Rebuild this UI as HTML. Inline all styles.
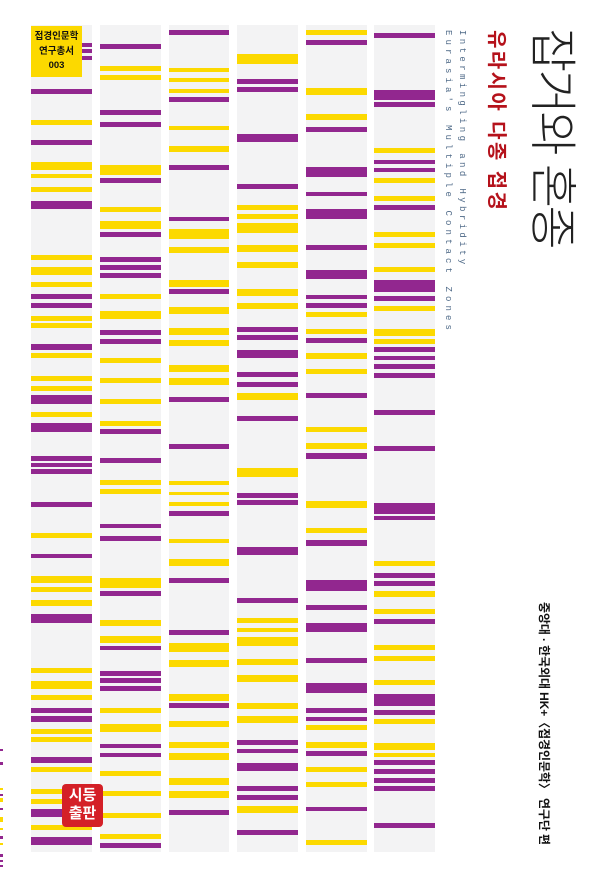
<!DOCTYPE html>
<html><head><meta charset="utf-8">
<style>
html,body{margin:0;padding:0;background:#fff;}
body{width:600px;height:878px;position:relative;overflow:hidden;font-family:"Liberation Sans","Noto Sans CJK KR",sans-serif;}
.col{position:absolute;top:0;width:61px;height:878px;}
.bg{position:absolute;left:0;right:0;top:25px;height:827px;background:#f3f3f4;}
.col b{position:absolute;left:0;right:0;display:block;}
.p{background:#92278f;}
.y{background:#fcd900;}
.rot{position:absolute;transform-origin:0 0;transform:rotate(90deg);white-space:nowrap;}
.edge b{position:absolute;left:0;width:3px;display:block;}
</style></head><body>

<!-- column 1 -->
<div class="col" style="left:31px">
<div class="bg"></div>
<b class="p" style="top:43px;height:4px"></b>
<b class="p" style="top:49px;height:4px"></b>
<b class="p" style="top:56px;height:4px"></b>
<b class="p" style="top:89px;height:5px"></b>
<b class="y" style="top:120px;height:5px"></b>
<b class="p" style="top:140px;height:5px"></b>
<b class="y" style="top:162px;height:8px"></b>
<b class="y" style="top:174px;height:4px"></b>
<b class="y" style="top:187px;height:5px"></b>
<b class="p" style="top:201px;height:8px"></b>
<b class="y" style="top:255px;height:5px"></b>
<b class="y" style="top:267px;height:8px"></b>
<b class="y" style="top:282px;height:5px"></b>
<b class="p" style="top:294px;height:5px"></b>
<b class="p" style="top:303px;height:5px"></b>
<b class="y" style="top:316px;height:5px"></b>
<b class="y" style="top:323px;height:5px"></b>
<b class="p" style="top:344px;height:6px"></b>
<b class="y" style="top:353px;height:5px"></b>
<b class="y" style="top:376px;height:5px"></b>
<b class="y" style="top:386px;height:5px"></b>
<b class="p" style="top:395px;height:9px"></b>
<b class="y" style="top:412px;height:5px"></b>
<b class="p" style="top:423px;height:9px"></b>
<b class="p" style="top:456px;height:5px"></b>
<b class="p" style="top:463px;height:4px"></b>
<b class="p" style="top:469px;height:5px"></b>
<b class="p" style="top:502px;height:5px"></b>
<b class="y" style="top:533px;height:5px"></b>
<b class="p" style="top:554px;height:4px"></b>
<b class="y" style="top:576px;height:7px"></b>
<b class="y" style="top:587px;height:5px"></b>
<b class="y" style="top:600px;height:6px"></b>
<b class="p" style="top:614px;height:9px"></b>
<b class="y" style="top:668px;height:5px"></b>
<b class="y" style="top:681px;height:8px"></b>
<b class="y" style="top:695px;height:5px"></b>
<b class="p" style="top:708px;height:5px"></b>
<b class="p" style="top:716px;height:6px"></b>
<b class="y" style="top:729px;height:5px"></b>
<b class="y" style="top:737px;height:5px"></b>
<b class="p" style="top:757px;height:6px"></b>
<b class="y" style="top:767px;height:5px"></b>
<b class="y" style="top:789px;height:5px"></b>
<b class="y" style="top:799px;height:5px"></b>
<b class="p" style="top:809px;height:8px"></b>
<b class="y" style="top:825px;height:5px"></b>
<b class="p" style="top:837px;height:8px"></b>
</div>

<!-- column 2 -->
<div class="col" style="left:100px">
<div class="bg"></div>
<b class="p" style="top:44px;height:5px"></b>
<b class="y" style="top:66px;height:5px"></b>
<b class="y" style="top:75px;height:5px"></b>
<b class="p" style="top:110px;height:5px"></b>
<b class="p" style="top:122px;height:5px"></b>
<b class="y" style="top:165px;height:10px"></b>
<b class="p" style="top:178px;height:5px"></b>
<b class="y" style="top:207px;height:5px"></b>
<b class="y" style="top:221px;height:8px"></b>
<b class="p" style="top:232px;height:5px"></b>
<b class="p" style="top:257px;height:5px"></b>
<b class="p" style="top:265px;height:5px"></b>
<b class="p" style="top:273px;height:5px"></b>
<b class="y" style="top:294px;height:5px"></b>
<b class="y" style="top:311px;height:8px"></b>
<b class="p" style="top:330px;height:5px"></b>
<b class="p" style="top:339px;height:5px"></b>
<b class="y" style="top:358px;height:5px"></b>
<b class="y" style="top:378px;height:5px"></b>
<b class="y" style="top:399px;height:5px"></b>
<b class="y" style="top:421px;height:5px"></b>
<b class="p" style="top:429px;height:5px"></b>
<b class="p" style="top:458px;height:5px"></b>
<b class="y" style="top:480px;height:5px"></b>
<b class="y" style="top:489px;height:5px"></b>
<b class="p" style="top:524px;height:4px"></b>
<b class="p" style="top:536px;height:5px"></b>
<b class="y" style="top:578px;height:10px"></b>
<b class="p" style="top:591px;height:5px"></b>
<b class="y" style="top:620px;height:6px"></b>
<b class="y" style="top:636px;height:7px"></b>
<b class="p" style="top:646px;height:4px"></b>
<b class="p" style="top:671px;height:5px"></b>
<b class="p" style="top:678px;height:5px"></b>
<b class="p" style="top:686px;height:5px"></b>
<b class="y" style="top:708px;height:5px"></b>
<b class="y" style="top:724px;height:8px"></b>
<b class="p" style="top:744px;height:4px"></b>
<b class="p" style="top:753px;height:4px"></b>
<b class="y" style="top:771px;height:5px"></b>
<b class="y" style="top:791px;height:5px"></b>
<b class="y" style="top:813px;height:5px"></b>
<b class="y" style="top:834px;height:5px"></b>
<b class="p" style="top:843px;height:5px"></b>
</div>

<!-- column 3 -->
<div class="col" style="left:169px;width:60px">
<div class="bg"></div>
<b class="p" style="top:30px;height:5px"></b>
<b class="y" style="top:68px;height:4px"></b>
<b class="y" style="top:78px;height:4px"></b>
<b class="y" style="top:89px;height:4px"></b>
<b class="p" style="top:97px;height:5px"></b>
<b class="y" style="top:126px;height:4px"></b>
<b class="y" style="top:146px;height:6px"></b>
<b class="p" style="top:165px;height:5px"></b>
<b class="p" style="top:217px;height:4px"></b>
<b class="y" style="top:229px;height:10px"></b>
<b class="y" style="top:247px;height:6px"></b>
<b class="y" style="top:280px;height:7px"></b>
<b class="p" style="top:289px;height:5px"></b>
<b class="y" style="top:307px;height:7px"></b>
<b class="y" style="top:328px;height:7px"></b>
<b class="y" style="top:340px;height:6px"></b>
<b class="y" style="top:365px;height:7px"></b>
<b class="y" style="top:378px;height:7px"></b>
<b class="p" style="top:397px;height:5px"></b>
<b class="p" style="top:444px;height:5px"></b>
<b class="y" style="top:481px;height:4px"></b>
<b class="y" style="top:492px;height:3px"></b>
<b class="y" style="top:502px;height:4px"></b>
<b class="p" style="top:511px;height:5px"></b>
<b class="y" style="top:539px;height:4px"></b>
<b class="y" style="top:559px;height:7px"></b>
<b class="p" style="top:578px;height:5px"></b>
<b class="p" style="top:630px;height:5px"></b>
<b class="y" style="top:643px;height:9px"></b>
<b class="y" style="top:660px;height:7px"></b>
<b class="y" style="top:694px;height:7px"></b>
<b class="p" style="top:703px;height:5px"></b>
<b class="y" style="top:721px;height:6px"></b>
<b class="y" style="top:742px;height:6px"></b>
<b class="y" style="top:753px;height:7px"></b>
<b class="y" style="top:778px;height:7px"></b>
<b class="y" style="top:791px;height:7px"></b>
<b class="p" style="top:810px;height:5px"></b>
</div>

<!-- column 4 -->
<div class="col" style="left:237px">
<div class="bg"></div>
<b class="y" style="top:54px;height:10px"></b>
<b class="p" style="top:79px;height:5px"></b>
<b class="p" style="top:87px;height:5px"></b>
<b class="p" style="top:134px;height:8px"></b>
<b class="p" style="top:184px;height:5px"></b>
<b class="y" style="top:205px;height:5px"></b>
<b class="y" style="top:214px;height:5px"></b>
<b class="y" style="top:223px;height:10px"></b>
<b class="y" style="top:245px;height:7px"></b>
<b class="y" style="top:262px;height:6px"></b>
<b class="y" style="top:289px;height:7px"></b>
<b class="y" style="top:303px;height:6px"></b>
<b class="p" style="top:327px;height:5px"></b>
<b class="p" style="top:335px;height:5px"></b>
<b class="p" style="top:350px;height:8px"></b>
<b class="p" style="top:372px;height:5px"></b>
<b class="p" style="top:382px;height:5px"></b>
<b class="y" style="top:393px;height:7px"></b>
<b class="p" style="top:416px;height:5px"></b>
<b class="y" style="top:468px;height:9px"></b>
<b class="p" style="top:493px;height:5px"></b>
<b class="p" style="top:500px;height:5px"></b>
<b class="p" style="top:547px;height:8px"></b>
<b class="p" style="top:598px;height:5px"></b>
<b class="y" style="top:618px;height:5px"></b>
<b class="y" style="top:628px;height:4px"></b>
<b class="y" style="top:637px;height:9px"></b>
<b class="y" style="top:659px;height:6px"></b>
<b class="y" style="top:675px;height:7px"></b>
<b class="y" style="top:703px;height:6px"></b>
<b class="y" style="top:716px;height:7px"></b>
<b class="p" style="top:740px;height:5px"></b>
<b class="p" style="top:749px;height:4px"></b>
<b class="p" style="top:763px;height:8px"></b>
<b class="p" style="top:786px;height:5px"></b>
<b class="p" style="top:795px;height:5px"></b>
<b class="y" style="top:806px;height:7px"></b>
<b class="p" style="top:830px;height:5px"></b>
</div>

<!-- column 5 -->
<div class="col" style="left:306px">
<div class="bg"></div>
<b class="y" style="top:30px;height:5px"></b>
<b class="p" style="top:40px;height:5px"></b>
<b class="y" style="top:88px;height:7px"></b>
<b class="y" style="top:114px;height:6px"></b>
<b class="p" style="top:127px;height:5px"></b>
<b class="p" style="top:167px;height:10px"></b>
<b class="p" style="top:192px;height:4px"></b>
<b class="p" style="top:209px;height:10px"></b>
<b class="p" style="top:245px;height:5px"></b>
<b class="p" style="top:270px;height:9px"></b>
<b class="p" style="top:295px;height:4px"></b>
<b class="p" style="top:303px;height:5px"></b>
<b class="y" style="top:312px;height:5px"></b>
<b class="y" style="top:329px;height:5px"></b>
<b class="p" style="top:338px;height:5px"></b>
<b class="y" style="top:353px;height:6px"></b>
<b class="y" style="top:369px;height:5px"></b>
<b class="p" style="top:393px;height:5px"></b>
<b class="y" style="top:427px;height:5px"></b>
<b class="y" style="top:443px;height:6px"></b>
<b class="p" style="top:453px;height:6px"></b>
<b class="y" style="top:501px;height:7px"></b>
<b class="y" style="top:528px;height:5px"></b>
<b class="p" style="top:540px;height:6px"></b>
<b class="p" style="top:580px;height:11px"></b>
<b class="p" style="top:605px;height:5px"></b>
<b class="p" style="top:623px;height:9px"></b>
<b class="p" style="top:658px;height:5px"></b>
<b class="p" style="top:683px;height:10px"></b>
<b class="p" style="top:708px;height:5px"></b>
<b class="p" style="top:717px;height:4px"></b>
<b class="y" style="top:725px;height:5px"></b>
<b class="y" style="top:742px;height:6px"></b>
<b class="p" style="top:751px;height:5px"></b>
<b class="y" style="top:767px;height:5px"></b>
<b class="y" style="top:782px;height:5px"></b>
<b class="p" style="top:807px;height:4px"></b>
<b class="y" style="top:840px;height:5px"></b>
</div>

<!-- column 6 -->
<div class="col" style="left:374px">
<div class="bg"></div>
<b class="p" style="top:33px;height:5px"></b>
<b class="p" style="top:90px;height:10px"></b>
<b class="p" style="top:102px;height:5px"></b>
<b class="y" style="top:148px;height:5px"></b>
<b class="p" style="top:160px;height:4px"></b>
<b class="p" style="top:168px;height:4px"></b>
<b class="y" style="top:178px;height:5px"></b>
<b class="y" style="top:196px;height:5px"></b>
<b class="p" style="top:205px;height:5px"></b>
<b class="y" style="top:232px;height:5px"></b>
<b class="y" style="top:243px;height:5px"></b>
<b class="y" style="top:267px;height:5px"></b>
<b class="p" style="top:280px;height:12px"></b>
<b class="p" style="top:296px;height:5px"></b>
<b class="y" style="top:306px;height:5px"></b>
<b class="y" style="top:329px;height:7px"></b>
<b class="y" style="top:339px;height:5px"></b>
<b class="p" style="top:347px;height:5px"></b>
<b class="p" style="top:356px;height:4px"></b>
<b class="p" style="top:364px;height:5px"></b>
<b class="p" style="top:373px;height:5px"></b>
<b class="p" style="top:410px;height:5px"></b>
<b class="p" style="top:446px;height:5px"></b>
<b class="p" style="top:503px;height:11px"></b>
<b class="p" style="top:516px;height:4px"></b>
<b class="y" style="top:561px;height:5px"></b>
<b class="p" style="top:573px;height:5px"></b>
<b class="p" style="top:581px;height:5px"></b>
<b class="y" style="top:591px;height:6px"></b>
<b class="y" style="top:609px;height:5px"></b>
<b class="p" style="top:619px;height:5px"></b>
<b class="y" style="top:645px;height:5px"></b>
<b class="y" style="top:656px;height:5px"></b>
<b class="y" style="top:680px;height:5px"></b>
<b class="p" style="top:694px;height:12px"></b>
<b class="p" style="top:710px;height:5px"></b>
<b class="y" style="top:719px;height:5px"></b>
<b class="y" style="top:743px;height:7px"></b>
<b class="y" style="top:753px;height:4px"></b>
<b class="p" style="top:760px;height:5px"></b>
<b class="p" style="top:769px;height:5px"></b>
<b class="p" style="top:778px;height:5px"></b>
<b class="p" style="top:786px;height:5px"></b>
<b class="p" style="top:823px;height:5px"></b>
</div>

<!-- series label box -->
<div style="position:absolute;left:31px;top:26px;width:51px;height:51px;background:#fcd900;text-align:center;font-family:'Liberation Sans','Noto Sans CJK KR',sans-serif;font-weight:bold;font-size:9.5px;line-height:14.5px;color:#111;box-sizing:border-box;">
<div style="padding-top:4px">접경인문학<br>연구총서<br>003</div>
</div>

<!-- seal -->
<div style="position:absolute;left:62px;top:784px;width:41px;height:43px;background:#d42027;border-radius:4px;color:#fff;font-family:'Liberation Sans','Noto Sans CJK KR',sans-serif;font-weight:bold;font-size:15px;line-height:18px;text-align:center;padding-top:3px;box-sizing:border-box;">시등<br>출판</div>

<!-- left edge strip -->
<div class="edge">
<b class="p" style="top:749px;height:2px"></b>
<b class="p" style="top:762px;height:3px"></b>
<b class="y" style="top:788px;height:2px"></b>
<b class="p" style="top:794px;height:2px"></b>
<b class="y" style="top:798px;height:4px"></b>
<b class="p" style="top:808px;height:2px"></b>
<b class="y" style="top:817px;height:5px"></b>
<b class="y" style="top:828px;height:2px"></b>
<b class="p" style="top:836px;height:3px"></b>
<b class="y" style="top:843px;height:2px"></b>
<b class="p" style="top:854px;height:3px"></b>
<b class="p" style="top:860px;height:2px"></b>
<b class="p" style="top:865px;height:2px"></b>
</div>

<!-- title -->
<div class="rot" style="left:575px;top:28px;font-family:'Liberation Sans','Noto Sans CJK KR',sans-serif;font-size:48px;line-height:48px;letter-spacing:-2.5px;color:#222;font-weight:300;">잡거와 혼종</div>

<!-- subtitle -->
<div class="rot" style="left:507px;top:30px;font-family:'Liberation Sans','Noto Sans CJK KR',sans-serif;font-size:20px;line-height:22px;letter-spacing:2.4px;color:#b5121b;font-weight:bold;">유라시아 다종 접경</div>

<!-- english -->
<div class="rot" style="left:468px;top:30px;font-family:'Liberation Mono',monospace;font-size:9px;line-height:12px;letter-spacing:3.4px;color:#4f6a88;">Intermingling and Hybridity</div>
<div class="rot" style="left:454px;top:30px;font-family:'Liberation Mono',monospace;font-size:9px;line-height:12px;letter-spacing:4.1px;color:#4f6a88;">Eurasia's Multiple Contact Zones</div>

<!-- credit -->
<div class="rot" style="left:550px;top:602px;font-family:'Liberation Sans','Noto Sans CJK KR',sans-serif;font-size:12px;line-height:13px;letter-spacing:-0.1px;color:#111;font-weight:bold;">중앙대 · 한국외대 HK+〈접경인문학〉 연구단 편</div>

</body></html>
